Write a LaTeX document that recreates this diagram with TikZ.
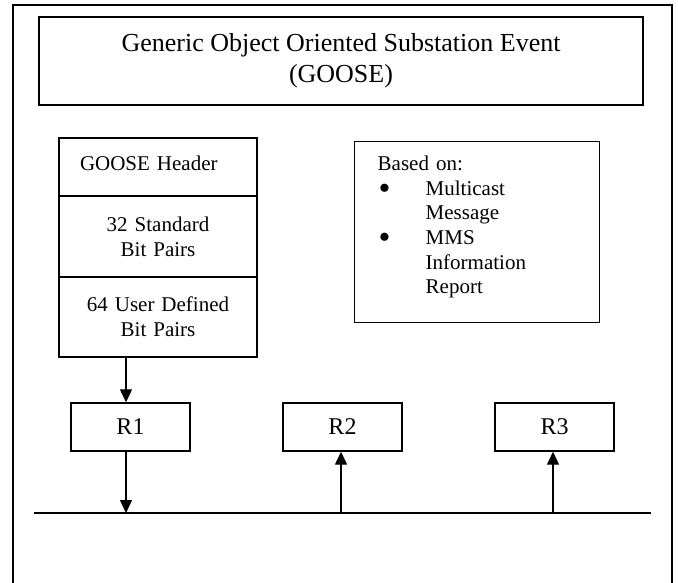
\documentclass[tikz,border=0pt]{standalone}
\usepackage{fontspec}
\setmainfont{Liberation Serif}
\usetikzlibrary{positioning, arrows.meta, calc}

\newcommand{\bigbullet}{\hspace{1pt}{\fontsize{34}{34}\selectfont\raisebox{-4pt}{\textbullet}}}

\begin{document}
\begin{tikzpicture}[x=1pt, y=-1pt,
    box/.style={draw, line width=1.4pt, inner sep=0pt},
    cell/.style={box, outer sep=0pt, minimum width=198pt, align=center,
                 text width=190pt, font=\fontsize{21}{25}\selectfont},
    rbox/.style={box, minimum width=119pt, minimum height=48pt,
                 font=\fontsize{24}{28}\selectfont},
    arr/.style={-{Triangle[length=13pt,width=12pt]}, line width=1.3pt}]
    \useasboundingbox (0,0) rectangle (678,582);
    \draw[line width=1.8pt] (13,5) rectangle (672,600);
    \node[box, line width=1.8pt, minimum width=604pt, minimum height=88pt,
          align=center, font=\fontsize{26}{31}\selectfont] (title) at (341,61)
          {Generic Object Oriented Substation Event\\(GOOSE)};
    \node[cell, anchor=north west, minimum height=58pt, align=left,
          text width=156pt, inner xsep=21pt, text depth=7pt] (hdr) at (59,138)
          {GOOSE Header};
    \node[cell, minimum height=81pt, below=0pt of hdr] (std)
          {32 Standard\\Bit Pairs};
    \node[cell, minimum height=80pt, below=0pt of std] (usr)
          {64 User Defined\\Bit Pairs};
    \node[box, anchor=north west, minimum width=245pt, minimum height=181pt,
          align=left, text width=199pt, inner xsep=23pt,
          font=\fontsize{21}{24.6}\selectfont] (based) at (354,141)
          {\begin{tabular}{@{}p{48pt}@{}l@{}}
           \multicolumn{2}{@{}l}{Based on:}\\
           \bigbullet & Multicast\\
            & Message\\
           \bigbullet & MMS\\
            & Information\\
            & Report\\[10pt]
           \end{tabular}};
    \node[rbox] (r1) at (130.5,427) {R1};
    \node[rbox] (r2) at (342.5,427) {R2};
    \node[rbox] (r3) at (554.5,427) {R3};
    \coordinate (busl) at (34,513);
    \coordinate (busr) at (651,513);
    \coordinate (b1) at (126,513);
    \coordinate (b2) at (341,513);
    \coordinate (b3) at (553,513);
    \draw[line width=1.8pt] (busl) -- (busr);
    \draw[arr] (usr.south -| b1) -- (r1.north -| b1);
    \draw[arr] (r1.south -| b1) -- (b1);
    \draw[arr] (b2) -- (r2.south -| b2);
    \draw[arr] (b3) -- (r3.south -| b3);
\end{tikzpicture}
\end{document}
